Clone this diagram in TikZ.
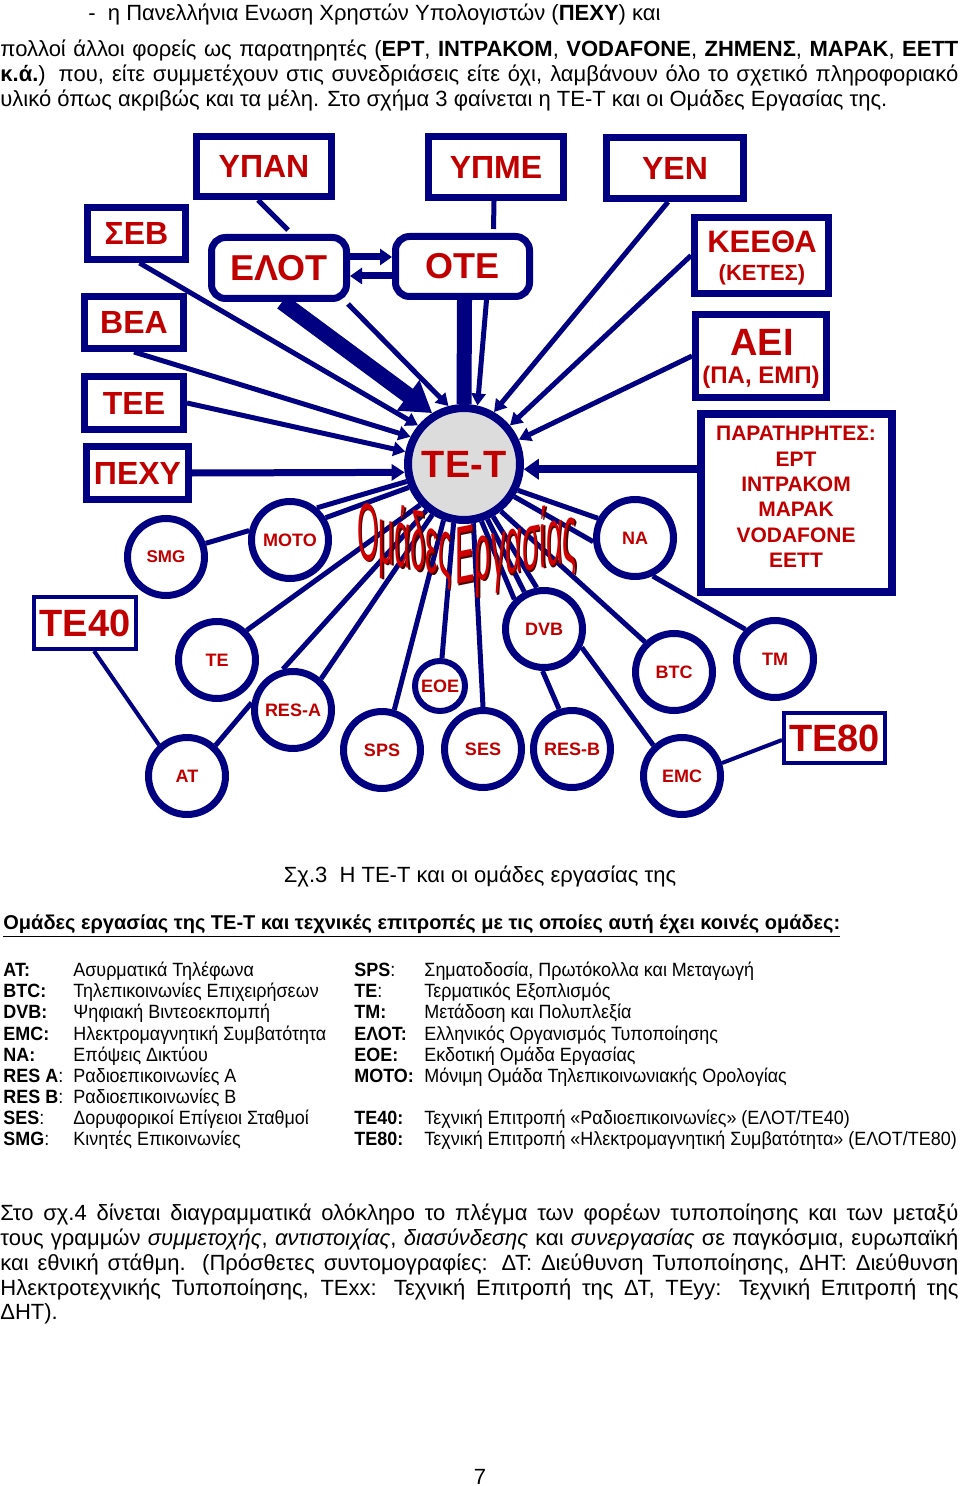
\documentclass[tikz,border=0pt]{standalone}
\usepackage{fontspec}
\setmainfont{Liberation Sans}
\newfontfamily\bodyfam{Liberation Sans}
\newfontfamily\legfam{Liberation Sans}[FakeStretch=0.935]
\usetikzlibrary{arrows.meta,backgrounds}
\definecolor{navy}{HTML}{000080}
\definecolor{dred}{HTML}{C00000}
\definecolor{wred}{HTML}{D00000}
\definecolor{wdark}{HTML}{4A0000}
\definecolor{tgray}{HTML}{DCDCDC}
\newcommand{\bodysz}{\bodyfam\fontsize{11}{13}\selectfont}
\newcommand{\legsz}{\legfam\fontsize{9.6}{11}\selectfont}
\newcommand{\wafont}{\bodyfam\fontsize{16}{16}\selectfont}
\begin{document}
\begin{tikzpicture}[x=0.5pt,y=-0.5pt,
  box/.style={draw=navy,line width=3.5pt,fill=white,text=dred,inner sep=0pt,align=center,font=\bfseries\fontsize{16}{18}\selectfont},
  rbox/.style={box,rounded corners=7pt,font=\bfseries\fontsize{18}{20}\selectfont},
  grp/.style={circle,draw=navy,line width=3.5pt,fill=white,text=dred,inner sep=0pt,minimum size=38.5pt,font=\bfseries\fontsize{9}{10}\selectfont},
  lbl/.style={inner sep=0pt,text=dred,align=center},
  link/.style={draw=navy,line width=2.5pt},
  arr/.style={link,-{Triangle[length=6pt,width=7pt]}},
  txt/.style={anchor=base west,inner sep=0pt,font=\bodysz},
  leg/.style={anchor=base west,inner sep=0pt,font=\legsz},
]
\useasboundingbox (0,0) rectangle (960,1486);

% ---------- top paragraph ----------
\node[txt] (p1) at (88,21) {-\ \ η Πανελλήνια Ενωση Χρηστών Υπολογιστών (\textbf{ΠΕΧΥ}) και};
\node[txt] (p2) at (0,57) {\makebox[479pt][s]{πολλοί άλλοι φορείς ως παρατηρητές (\textbf{ΕΡΤ}, \textbf{ΙΝΤΡΑΚΟΜ}, \textbf{VODAFONE}, \textbf{ΖΗΜΕΝΣ}, \textbf{ΜΑΡΑΚ}, \textbf{ΕΕΤΤ}}};
\node[txt] (p3) at (0,82) {\makebox[479pt][s]{\textbf{κ.ά.}) που, είτε συμμετέχουν στις συνεδριάσεις είτε όχι, λαμβάνουν όλο το σχετικό πληροφοριακό}};
\node[txt] (p4) at (0,107) {υλικό όπως ακριβώς και τα μέλη. Στο σχήμα 3 φαίνεται η ΤΕ-Τ και οι Ομάδες Εργασίας της.};

% ---------- boxes ----------
\node[box,minimum width=67.5pt,minimum height=30pt] (ypan) at (264,166.5) {ΥΠΑΝ};
\node[box,minimum width=67.5pt,minimum height=30.5pt] (ypme) at (496,167) {ΥΠΜΕ};
\node[box,minimum width=68.5pt,minimum height=30.5pt] (yen) at (675,168) {ΥΕΝ};
\node[box,minimum width=49pt,minimum height=26pt] (seb) at (136.5,233.5) {ΣΕΒ};
\node[box,minimum width=49.5pt,minimum height=26pt] (bea) at (134,322.5) {ΒΕΑ};
\node[box,minimum width=49.5pt,minimum height=26.5pt] (tee) at (134,403) {ΤΕΕ};
\node[box,minimum width=51pt,minimum height=26.5pt] (pexy) at (137.5,473) {ΠΕΧΥ};
\node[rbox,minimum width=67.5pt,minimum height=30.5pt] (elot) at (279,268) {ΕΛΟΤ};
\node[rbox,minimum width=67pt,minimum height=30pt] (ote) at (462.5,266.5) {ΟΤΕ};
\node[box,minimum width=67pt,minimum height=38pt] (keetha) at (761.5,255.5) {};
\node[lbl,font=\bfseries\fontsize{15.5}{16}\selectfont] (keethaA) at (762,242) {ΚΕΕΘΑ};
\node[lbl,font=\bfseries\fontsize{11}{12}\selectfont] (keethaB) at (762,275) {(ΚΕΤΕΣ)};
\node[box,minimum width=65.5pt,minimum height=41.5pt] (aei) at (761,356) {};
\node[lbl,font=\bfseries\fontsize{19}{20}\selectfont] (aeiA) at (762,342) {ΑΕΙ};
\node[lbl,font=\bfseries\fontsize{12}{13}\selectfont] (aeiB) at (761,377) {(ΠΑ, ΕΜΠ)};
\node[box,line width=4pt,minimum width=95.5pt,minimum height=89pt] (obs) at (796.5,503) {};
\node[lbl,font=\bfseries\fontsize{10.5}{12.65}\selectfont] (obsT) at (796,497) {ΠΑΡΑΤΗΡΗΤΕΣ:\\ΕΡΤ\\ΙΝΤΡΑΚΟΜ\\ΜΑΡΑΚ\\VODAFONE\\ΕΕΤΤ};
\node[box,line width=2pt,minimum width=51pt,minimum height=26pt,font=\bfseries\fontsize{19}{20}\selectfont] (te40) at (85,623) {ΤΕ40};
\node[box,line width=2pt,minimum width=50.5pt,minimum height=25pt,font=\bfseries\fontsize{19}{20}\selectfont] (te80) at (834.5,738) {ΤΕ80};

% ---------- circles ----------
\node[grp,fill=tgray,line width=4pt,minimum size=56pt,font=\bfseries\fontsize{19}{20}\selectfont] (tet) at (464,464) {ΤΕ-Τ};
\node[grp,font=\bfseries\fontsize{8.5}{10}\selectfont] (smg) at (166,557) {SMG};
\node[grp] (moto) at (290,540) {ΜΟΤΟ};
\node[grp] (te) at (217,660) {TE};
\node[grp] (resa) at (293,710) {RES-A};
\node[grp] (at) at (187,776) {AT};
\node[grp] (sps) at (382,750) {SPS};
\node[grp,line width=3pt,minimum size=25pt] (eoe) at (440,686) {ΕΟΕ};
\node[grp] (ses) at (483,749) {SES};
\node[grp] (resb) at (572,749) {RES-B};
\node[grp] (dvb) at (544,629) {DVB};
\node[grp] (na) at (635,538) {NA};
\node[grp] (btc) at (674,672) {BTC};
\node[grp] (tm) at (775,659) {TM};
\node[grp] (emc) at (682,776) {EMC};

% ---------- WordArt ----------
\begin{scope}[shift={(358.5,559.5)}]
\node[anchor=base west,inner sep=0pt,yslant=-0.2,text=wdark] (wa1s) at (0,0) {\scalebox{0.86}[2.55]{\wafont Ομάδες}};
\end{scope}
\begin{scope}[shift={(357,558)}]
\node[anchor=base west,inner sep=0pt,yslant=-0.2,text=wred] (wa1) at (0,0) {\scalebox{0.86}[2.55]{\wafont Ομάδες}};
\end{scope}
\begin{scope}[shift={(456.5,586.5)}]
\node[anchor=base west,inner sep=0pt,yslant=0.2,text=wdark] (wa2s) at (0,0) {\scalebox{0.9}[2.55]{\wafont Εργασίας}};
\end{scope}
\begin{scope}[shift={(455,585)}]
\node[anchor=base west,inner sep=0pt,yslant=0.2,text=wred] (wa2) at (0,0) {\scalebox{0.9}[2.55]{\wafont Εργασίας}};
\end{scope}

% ---------- connectors ----------
\begin{scope}[on background layer]
\fill[white] (0,0) rectangle (960,1486);
\draw[link] ([xshift=-3pt]ypan.south) -- ([xshift=4.5pt,yshift=2pt]elot.north);
\draw[link] ([xshift=-1pt]ypme.south) -- ([xshift=15.5pt,yshift=2pt]ote.north);
\draw[link,line width=3.5pt,-{Triangle[length=6pt,width=8pt]}] ([yshift=5.5pt]elot.east) -- ([yshift=5.5pt]elot.east -| ote.west);
\draw[link,line width=3.5pt,-{Triangle[length=6pt,width=8pt]}] ([yshift=-4pt]elot.east -| ote.west) -- ([yshift=-4pt]elot.east);
\draw[link,line width=8pt,-{Triangle[length=15pt,width=18pt]}] ([xshift=1.5pt]elot.south) -- (tet.122);
\draw[arr] ([xshift=-1pt,yshift=-1pt]elot.south east) -- (tet.105);
\draw[link,line width=7.5pt] ([xshift=1pt]ote.south) -- (tet.north);
\draw[arr] ([xshift=12pt]ote.south) -- (tet.77);
\draw[arr] ([xshift=1.5pt]seb.south) -- (tet.140);
\draw[arr] (bea.south) -- (tet.153);
\draw[arr] (tee.east) -- (tet.168);
\draw[link,line width=3.5pt,-{Triangle[length=6.5pt,width=8pt]}] (pexy.east) -- (tet.188);
\draw[arr] ([xshift=-3.5pt]yen.south) -- (tet.60);
\draw[arr] (keetha.west) -- (tet.40);
\draw[arr] (aei.west) -- (tet.24);
\draw[link,line width=4pt,-{Triangle[length=7.5pt,width=10pt]}] (obs.west |- tet.-5) -- (tet.-5);
% groups
\draw[link] (tet.197) -- (moto.50);
\draw[link] (tet.203) -- (moto.32);
\draw[link] (smg.19) -- (moto.167);
\draw[link] (tet.223) -- (te.45);
\draw[link] (tet.231) -- (resa.104);
\draw[link] (tet.238) -- (resa.48);
\draw[link] (resa.170) -- (at.47);
\draw[link,line width=2pt] ([xshift=4.5pt]te40.south) -- (at.132);
\draw[link] (tet.250) -- (sps.73);
\draw[link] (tet.260) -- (eoe.86);
\draw[link] (tet.279) -- (ses.90);
\draw[link] (tet.287) -- (dvb.135);
\draw[link] (tet.293) -- (dvb.118);
\draw[link] (tet.299) -- (dvb.100);
\draw[link] (dvb.268) -- (resb.108);
\draw[link] (dvb.334) -- (emc.133);
\draw[link] (tet.308) -- (btc.134);
\draw[link] (tet.334) -- (na.152);
\draw[link] (tet.327) -- (na.185);
\draw[link] (na.295) -- (tm.135);
\draw[link,line width=2pt] (emc.18) -- ([yshift=-1pt]te80.west);
\end{scope}

% ---------- caption ----------
\node[anchor=base,inner sep=0pt,font=\bodysz] (cap) at (480,882) {Σχ.3 \ Η ΤΕ-Τ και οι ομάδες εργασίας της};

% ---------- legend ----------
\node[leg,font=\bodyfam\fontsize{10}{11}\selectfont\bfseries] (ltitle) at (3,929) {\underline{Ομάδες εργασίας της ΤΕ-Τ και τεχνικές επιτροπές με τις οποίες αυτή έχει κοινές ομάδες:}};
\node[leg] (la1) at (3,976) {\textbf{AT:}};
\node[leg] (lb1) at (73,976) {Ασυρματικά Τηλέφωνα};
\node[leg] (la2) at (3,997) {\textbf{BTC:}};
\node[leg] (lb2) at (73,997) {Τηλεπικοινωνίες Επιχειρήσεων};
\node[leg] (la3) at (3,1018) {\textbf{DVB:}};
\node[leg] (lb3) at (73,1018) {Ψηφιακή Βιντεοεκπομπή};
\node[leg] (la4) at (3,1040) {\textbf{EMC:}};
\node[leg] (lb4) at (73,1040) {Ηλεκτρομαγνητική Συμβατότητα};
\node[leg] (la5) at (3,1061) {\textbf{NA:}};
\node[leg] (lb5) at (73,1061) {Επόψεις Δικτύου};
\node[leg] (la6) at (3,1082) {\textbf{RES A}:};
\node[leg] (lb6) at (73,1082) {Ραδιοεπικοινωνίες Α};
\node[leg] (la7) at (3,1103) {\textbf{RES B}:};
\node[leg] (lb7) at (73,1103) {Ραδιοεπικοινωνίες Β};
\node[leg] (la8) at (3,1124) {\textbf{SES}:};
\node[leg] (lb8) at (73,1124) {Δορυφορικοί Επίγειοι Σταθμοί};
\node[leg] (la9) at (3,1145) {\textbf{SMG}:};
\node[leg] (lb9) at (73,1145) {Κινητές Επικοινωνίες};
\node[leg] (ra1) at (354,976) {\textbf{SPS}:};
\node[leg] (rb1) at (424,976) {Σηματοδοσία, Πρωτόκολλα και Μεταγωγή};
\node[leg] (ra2) at (354,997) {\textbf{TE}:};
\node[leg] (rb2) at (424,997) {Τερματικός Εξοπλισμός};
\node[leg] (ra3) at (354,1018) {\textbf{TM:}};
\node[leg] (rb3) at (424,1018) {Μετάδοση και Πολυπλεξία};
\node[leg] (ra4) at (354,1040) {\textbf{ΕΛΟΤ:}};
\node[leg] (rb4) at (424,1040) {Ελληνικός Οργανισμός Τυποποίησης};
\node[leg] (ra5) at (354,1061) {\textbf{ΕΟΕ:}};
\node[leg] (rb5) at (424,1061) {Εκδοτική Ομάδα Εργασίας};
\node[leg] (ra6) at (354,1082) {\textbf{ΜΟΤΟ:}};
\node[leg] (rb6) at (424,1082) {Μόνιμη Ομάδα Τηλεπικοινωνιακής Ορολογίας};
\node[leg] (ra8) at (354,1124) {\textbf{ΤΕ40:}};
\node[leg] (rb8) at (424,1124) {Τεχνική Επιτροπή «Ραδιοεπικοινωνίες» (ΕΛΟΤ/ΤΕ40)};
\node[leg] (ra9) at (354,1145) {\textbf{ΤΕ80:}};
\node[leg] (rb9) at (424,1145) {Τεχνική Επιτροπή «Ηλεκτρομαγνητική Συμβατότητα» (ΕΛΟΤ/ΤΕ80)};

% ---------- bottom paragraph ----------
\node[txt] (q1) at (0,1220) {\makebox[479pt][s]{Στο σχ.4 δίνεται διαγραμματικά ολόκληρο το πλέγμα των φορέων τυποποίησης και των μεταξύ}};
\node[txt] (q2) at (0,1245) {\makebox[479pt][s]{τους γραμμών \textit{συμμετοχής}, \textit{αντιστοιχίας}, \textit{διασύνδεσης} και \textit{συνεργασίας} σε παγκόσμια, ευρωπαϊκή}};
\node[txt] (q3) at (0,1270) {\makebox[479pt][s]{και εθνική στάθμη. (Πρόσθετες συντομογραφίες: ΔΤ: Διεύθυνση Τυποποίησης, ΔΗΤ: Διεύθυνση}};
\node[txt] (q4) at (0,1295) {\makebox[479pt][s]{Ηλεκτροτεχνικής Τυποποίησης, ΤΕxx: Τεχνική Επιτροπή της ΔΤ, ΤΕyy: Τεχνική Επιτροπή της}};
\node[txt] (q5) at (0,1319) {ΔΗΤ).};

\node[anchor=base,inner sep=0pt,font=\bodysz] (pg) at (480,1484) {7};
\end{tikzpicture}
\end{document}
